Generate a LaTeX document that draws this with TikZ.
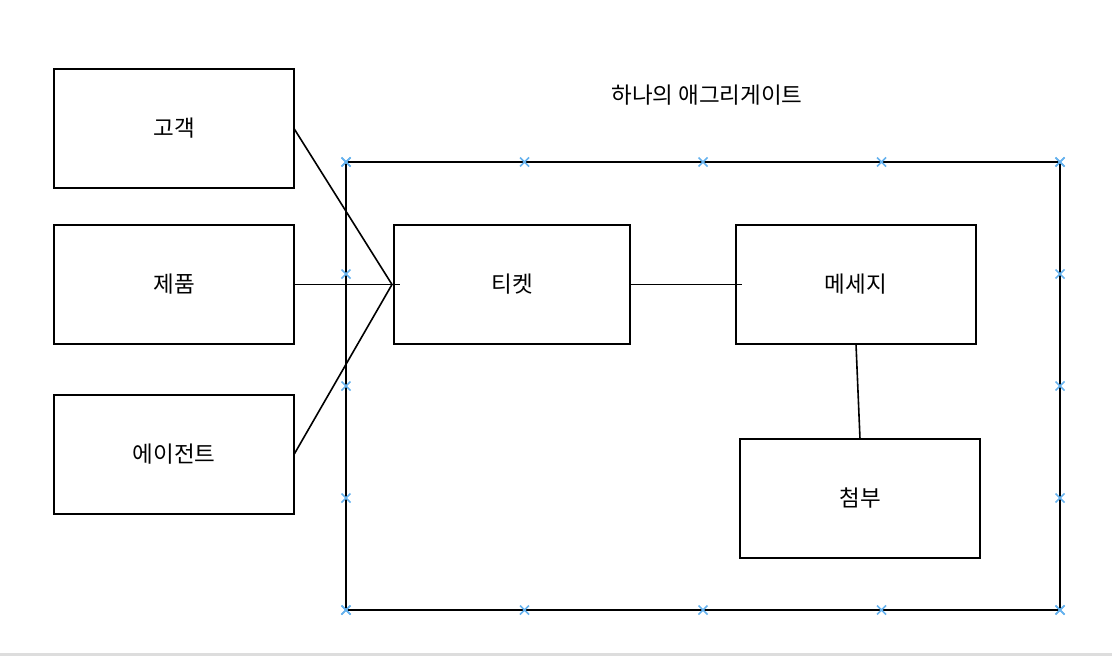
\documentclass[tikz,border=0pt]{standalone}
\usepackage{fontspec}
\setmainfont{Noto Sans CJK KR}
\usetikzlibrary{positioning}
\definecolor{markblue}{RGB}{102,178,238}
\definecolor{rulegray}{RGB}{221,221,221}

\begin{document}
\begin{tikzpicture}[
    x = 1pt, y = -1pt, % pixel-like units, y grows downward
    line width = 1.6pt, % line style
    node distance = 37pt, % distance between nodes
    font = \fontsize{22.5}{27}\selectfont
    ]

    \tikzset{box/.style={
    draw = black,
    line width = 2pt,
    fill = white,
    inner sep = 0pt,
    outer sep = 0pt,
    minimum width = 240pt,
    minimum height = 119pt
    },
    xmark/.pic={
    \draw[markblue, line width = 1.5pt] (-4.5,-4.5) -- (4.5,4.5) (-4.5,4.5) -- (4.5,-4.5);
    }}

    \useasboundingbox (0,0) rectangle (1112,656);
    \fill[rulegray] (0,653) rectangle (1112,656);

    % the aggregate frame with its markers
    \node[draw, line width=1.8pt, inner sep=0pt, outer sep=0pt, minimum width=714pt, minimum height=448pt, anchor=north west] (aggregate) at (346,162) {};
    \node (title) at (707,95) {하나의 애그리게이트};
    \foreach \i in {0,...,4} {
        \pic at (346+178.5*\i,162) {xmark};
        \pic at (346+178.5*\i,610) {xmark};
        \pic at (346,162+112*\i) {xmark};
        \pic at (1060,162+112*\i) {xmark};
    }

    \node[box] (customer) at (174,128.5) {고객};
    \node[box] (product) [below=37pt of customer] {제품};
    \node[box] (agent) [below=51pt of product] {에이전트};
    \node[box, minimum width=236pt] (ticket) [right=100pt of product] {티켓};
    \node[box] (message) [right=106pt of ticket] {메세지};
    \node[box, xshift=4pt] (attachment) [below=95pt of message] {첨부};

    \coordinate (hub) at ([xshift=-2pt]ticket.west);
    \coordinate (ticketin) at ([xshift=6pt]ticket.west);
    \coordinate (messagein) at ([xshift=6pt]message.west);

    \draw (customer.east) -- (hub);
    \draw (agent.east) -- (hub);
    \draw (product.east) -- (ticketin);
    \draw (ticket.east) -- (messagein);
    \draw (message.south) -- (attachment.north);
\end{tikzpicture}
\end{document}
